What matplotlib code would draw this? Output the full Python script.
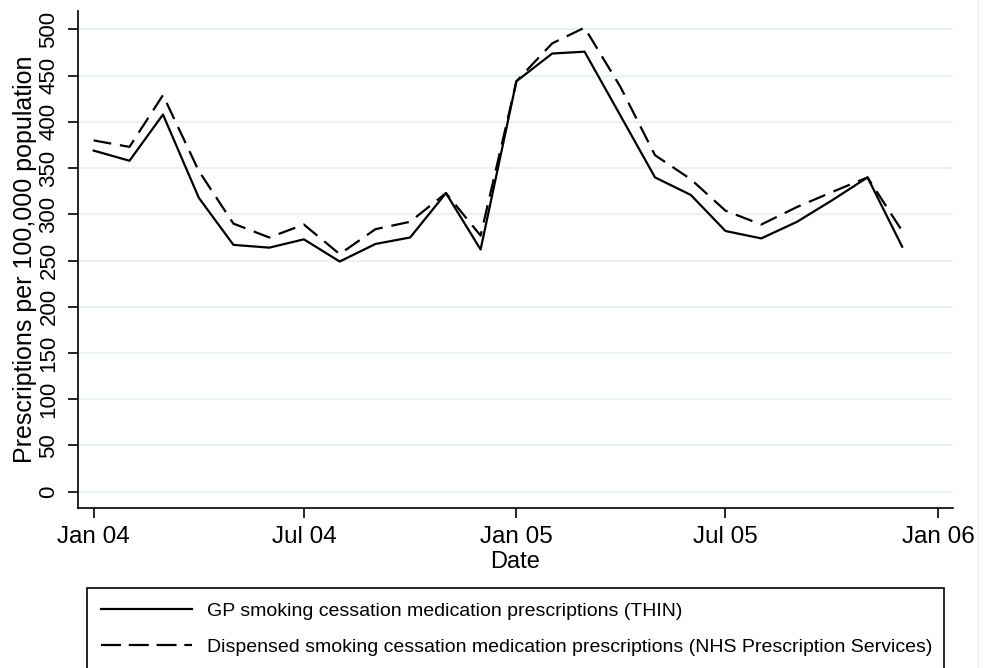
import matplotlib
matplotlib.use("Agg")
import matplotlib.pyplot as plt
import matplotlib.lines as mlines
import datetime as dt

plt.rcParams['font.family'] = ['Liberation Sans', 'DejaVu Sans']

months = [dt.date(2004 + (i // 12), i % 12 + 1, 1) for i in range(24)]
thin = [369, 358, 408, 318, 267, 264, 273, 249, 268, 275, 323, 262,
        444, 474, 476, 407, 340, 321, 282, 274, 292, 315, 340, 265]
nhs = [380, 373, 429, 347, 290, 275, 289, 257, 284, 292, 323, 277,
       444, 485, 502, 438, 364, 338, 304, 289, 308, 324, 340, 282]
yticks = list(range(0, 501, 50))
xtick_dates = [dt.date(2004, 1, 1), dt.date(2004, 7, 1), dt.date(2005, 1, 1),
               dt.date(2005, 7, 1), dt.date(2006, 1, 1)]
xtick_labels = ["Jan 04", "Jul 04", "Jan 05", "Jul 05", "Jan 06"]
labels = ["GP smoking cessation medication prescriptions (THIN)",
          "Dispensed smoking cessation medication prescriptions (NHS Prescription Services)"]

W, H = 984, 668
fig = plt.figure(figsize=(W / 100, H / 100), dpi=100)
ax = fig.add_axes([77.5 / W, 1 - 507.5 / H, (953 - 77.5) / W, (507.5 - 11) / H])

# faint graph-region edge on the right
fig.add_artist(mlines.Line2D([978 / W, 978 / W], [0, 1], transform=fig.transFigure,
                             color='#eaf2f3', lw=1.0))

for y in yticks:
    ax.axhline(y, color='#eaf2f3', lw=1.6, zorder=0)

l1, = ax.plot(months, thin, color='black', lw=1.6)
l2, = ax.plot(months, nhs, color='black', lw=1.6, dashes=(8, 4))

ax.set_xlim(dt.date(2003, 12, 18), dt.date(2006, 1, 14))
ax.set_ylim(-17.1, 520)
ax.set_yticks(yticks)
ax.set_yticklabels([str(v) for v in yticks], rotation=90, va='center')
ax.set_xticks(xtick_dates)
ax.set_xticklabels(xtick_labels)

for s in ['top', 'right']:
    ax.spines[s].set_visible(False)
for s in ['left', 'bottom']:
    ax.spines[s].set_linewidth(1.2)

ax.tick_params(axis='both', width=1.2, length=7, color='black')
ax.tick_params(axis='y', labelsize=16, pad=6)
ax.tick_params(axis='x', labelsize=17.5, pad=6)

ax.set_ylabel("Prescriptions per 100,000 population", fontsize=18, labelpad=1)
ax.set_xlabel("Date", fontsize=17, labelpad=2.5)

leg = fig.legend([l1, l2], labels, loc='upper left',
                 bbox_to_anchor=(86.5 / W, 1 - 588 / H, (944 - 86.5) / W, 0),
                 mode='expand', borderaxespad=0, fontsize=14.0,
                 handlelength=4.7, handletextpad=0.78, borderpad=0.72,
                 labelspacing=0.95, fancybox=False, edgecolor='black',
                 framealpha=1)
leg.get_frame().set_linewidth(1.2)
leg.get_lines()[1].set_dashes((9, 3.5))

fig.savefig("out.png", dpi=100)
